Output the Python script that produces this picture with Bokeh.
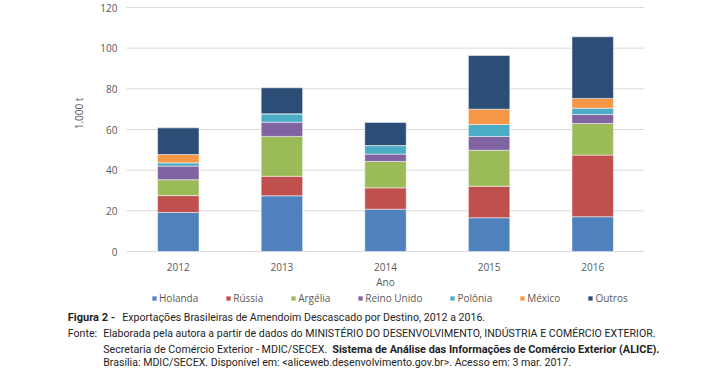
from bokeh.plotting import figure
from bokeh.models import ColumnDataSource, Range1d, Label, Legend, LegendItem
from bokeh.embed import file_html
from bokeh.resources import INLINE
from bokeh.core.properties import value
import math

years = ["2012", "2013", "2014", "2015", "2016"]
holanda = [19.2, 27.4, 20.8, 16.6, 17.1]
russia = [8.3, 9.6, 10.5, 15.5, 30.3]
argelia = [7.8, 19.6, 13.0, 17.7, 15.6]
reino_unido = [6.7, 7.0, 3.6, 6.8, 4.4]
polonia = [1.6, 4.1, 4.2, 5.9, 3.1]
mexico = [4.1, 0.0, 0.0, 7.5, 4.8]
outros = [13.1, 12.8, 11.4, 26.4, 30.3]
y_ticks = [0, 20, 40, 60, 80, 100, 120]

series_names = ["Holanda", "Rússia", "Argélia", "Reino Unido", "Polônia", "México", "Outros"]
series_keys = ["holanda", "russia", "argelia", "reino_unido", "polonia", "mexico", "outros"]
colors = ["#4F81BD", "#C0504D", "#9BBB59", "#8064A2", "#4BACC6", "#F79646", "#2C4D75"]

# category slots: year i occupies [i, i+1]
xpos = [i + 0.5 for i in range(len(years))]
source = ColumnDataSource(dict(
    year=years, x=xpos, holanda=holanda, russia=russia, argelia=argelia,
    reino_unido=reino_unido, polonia=polonia, mexico=mexico, outros=outros,
))

W, H = 692, 368
PLOT_L, PLOT_R, PLOT_T, PLOT_B = 126, 644, 7, 251   # plot area in pixels
xs = (PLOT_R - PLOT_L) / len(years)                  # px per category
ys = (PLOT_B - PLOT_T) / (y_ticks[-1] - y_ticks[0])  # px per unit

p = figure(
    width=W, height=H,
    x_range=Range1d(-PLOT_L / xs, (W - PLOT_L) / xs),
    y_range=Range1d(-(H - PLOT_B) / ys, PLOT_B / ys),
    output_backend="svg", toolbar_location=None,
    x_axis_location=None, y_axis_location=None,
    min_border=0, min_border_left=0, min_border_right=0, min_border_top=0, min_border_bottom=0,
)
p.outline_line_color = None
p.background_fill_color = "white"
p.border_fill_color = "white"
p.grid.visible = False

GREY = "#595959"
TICKFONT = "Open Sans"

# gridlines
p.segment(x0=[0] * len(y_ticks), x1=[len(years)] * len(y_ticks), y0=y_ticks, y1=y_ticks,
          line_color="#D9D9D9", line_width=1)

renderers = p.vbar_stack(series_keys, x="x", width=0.4, color=colors, source=source,
                         line_color="white", line_width=0.5)

# y tick labels
p.text(x=[0] * len(y_ticks), y=y_ticks, text=[str(t) for t in y_ticks], x_offset=-9,
       text_align="right", text_baseline="middle", text_font=value(TICKFONT),
       text_font_size="10px", text_color=GREY)

# x tick labels
p.text(x="x", y=0, text="year", source=source, y_offset=15, text_align="center",
       text_baseline="middle", text_font=value(TICKFONT), text_font_size="10px",
       text_color=GREY)

# axis titles
p.add_layout(Label(x=78, y=H - 113, x_units="screen", y_units="screen", text="1.000 t",
                   angle=math.pi / 2, text_align="center", text_baseline="middle",
                   text_font=TICKFONT, text_font_size="10px", text_color=GREY))
p.add_layout(Label(x=(PLOT_L + PLOT_R) / 2, y=H - 281.7, x_units="screen", y_units="screen",
                   text="Ano", text_align="center", text_baseline="middle",
                   text_font=TICKFONT, text_font_size="10px", text_color=GREY))

# legend
items = [LegendItem(label=n, renderers=[r]) for n, r in zip(series_names, renderers)]
lg = Legend(items=items, orientation="horizontal", location=(151, H - 304.5))
lg.padding = 0
lg.margin = 0
lg.spacing = 27
lg.glyph_width = 6
lg.glyph_height = 6
lg.label_standoff = 2
lg.border_line_color = None
lg.background_fill_alpha = 0
lg.label_text_font = TICKFONT
lg.label_text_font_size = "10px"
lg.label_text_color = GREY
lg.label_height = 10
p.add_layout(lg, "center")

# caption
CAP = "Roboto"
CAPCOL = "#1E1E1E"

def cap(x, ytop, text, bold=False, size="10.6px"):
    p.add_layout(Label(x=x, y=H - ytop, x_units="screen", y_units="screen", text=text,
                       text_align="left", text_baseline="middle",
                       text_font=CAP, text_font_size=size, text_color=CAPCOL,
                       text_font_style="bold" if bold else "normal"))

cap(67.3, 316.7, "Figura 2 -", bold=True, size="11px")
cap(121.7, 316.7, "Exportações Brasileiras de Amendoim Descascado por Destino, 2012 a 2016.")
cap(67.3, 333.0, "Fonte:")
cap(102.7, 333.0, "Elaborada pela autora a partir de dados do MINISTÉRIO DO DESENVOLVIMENTO, INDÚSTRIA E COMÉRCIO EXTERIOR.")
cap(102.7, 348.8, "Secretaria de Comércio Exterior - MDIC/SECEX.", size="10.7px")
cap(331.7, 348.8, "Sistema de Análise das Informações de Comércio Exterior (ALICE).", bold=True, size="10.9px")
cap(102.7, 362.3, "Brasília: MDIC/SECEX. Disponível em: <aliceweb.desenvolvimento.gov.br>. Acesso em: 3 mar. 2017.")

open("out.html", "w").write(file_html(p, INLINE))
